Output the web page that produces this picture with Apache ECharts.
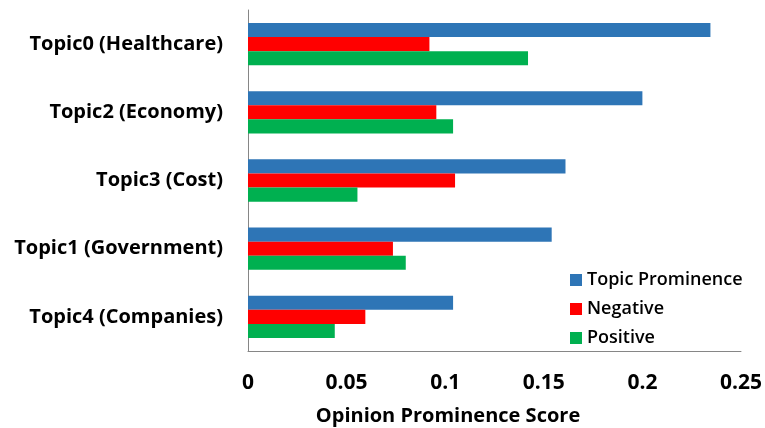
<!DOCTYPE html>
<html><head><meta charset="utf-8">
<script src="https://cdn.jsdelivr.net/npm/echarts@6/dist/echarts.min.js"></script>
<style>html,body{margin:0;padding:0;background:#fff}#c{width:765px;height:428px}</style>
</head><body><div id="c"></div>
<script>
const categories = ["Topic0 (Healthcare)", "Topic2 (Economy)", "Topic3 (Cost)", "Topic1 (Government)", "Topic4 (Companies)"];
const topicProminence = [0.2345, 0.200, 0.161, 0.154, 0.104];
const negative = [0.092, 0.0955, 0.105, 0.0735, 0.0595];
const positive = [0.142, 0.104, 0.0555, 0.080, 0.044];
const xTicks = [0, 0.05, 0.1, 0.15, 0.2, 0.25];
const seriesNames = ["Topic Prominence", "Negative", "Positive"];
const colors = ["#2E75B6", "#FF0000", "#00B050"];
const FONT = "Open Sans";

const chart = echarts.init(document.getElementById('c'));
const data = [topicProminence, negative, positive];
chart.setOption({
  animation: false,
  backgroundColor: '#fff',
  grid: {left: 248, right: 23, top: 10, bottom: 77},
  legend: {
    orient: 'vertical', left: 565, top: 263,
    itemWidth: 12, itemHeight: 12, itemGap: 5,
    icon: 'rect',
    textStyle: {fontFamily: FONT, fontSize: 18, fontWeight: 600, color: '#000', lineHeight: 24},
    data: seriesNames
  },
  xAxis: {
    type: 'value', min: xTicks[0], max: xTicks[xTicks.length-1], interval: 0.05,
    axisLine: {show: true, lineStyle: {color: '#868686', width: 1}},
    axisTick: {show: false}, splitLine: {show: false},
    axisLabel: {fontFamily: FONT, fontSize: 21, fontWeight: 'bold', color: '#000', margin: 22,
      formatter: v => String(+v.toFixed(2))}
  },
  yAxis: {
    type: 'category', inverse: true, data: categories,
    axisLine: {show: true, lineStyle: {color: '#868686', width: 1}},
    axisTick: {show: false},
    axisLabel: {fontFamily: FONT, fontSize: 20, fontWeight: 'bold', color: '#000', margin: 25}
  },
  graphic: [{type: 'text', x: 448, y: 416,
    style: {text: 'Opinion Prominence Score', font: 'bold 20px "Open Sans"', fill: '#000',
      align: 'center', verticalAlign: 'middle'}}],
  series: seriesNames.map((n, i) => ({
    name: n, type: 'bar', data: data[i], barGap: '0%', barCategoryGap: '38%',
    itemStyle: {color: colors[i]}
  }))
});
</script></body></html>
